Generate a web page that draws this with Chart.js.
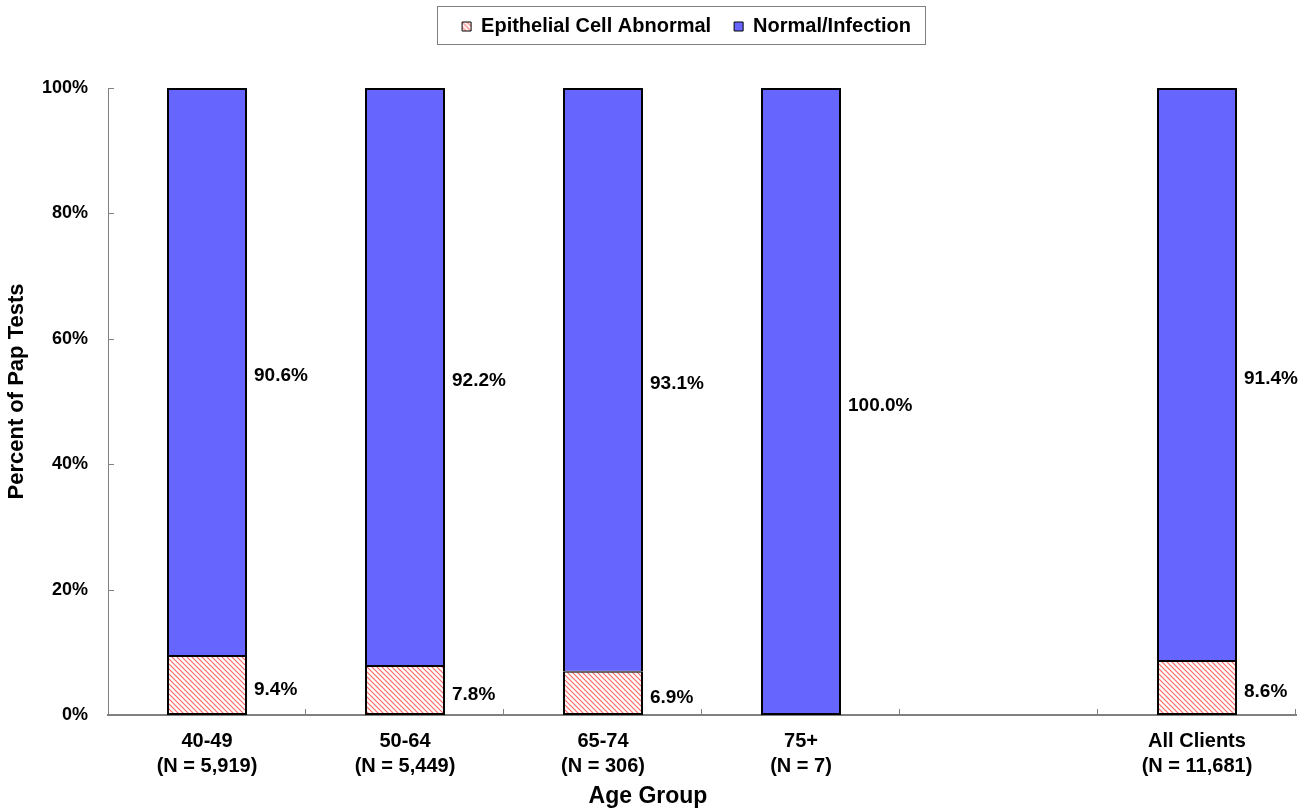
<!DOCTYPE html>
<html><head><meta charset="utf-8">
<script src="https://cdn.jsdelivr.net/npm/chart.js@4.4.1/dist/chart.umd.min.js"></script>
<style>html,body{margin:0;padding:0;background:#fff}#wrap{width:1308px;height:812px}</style>
</head><body><div id="wrap"><canvas id="c" width="1308" height="812"></canvas></div>
<script>
const categories = [["40-49","(N = 5,919)"],["50-64","(N = 5,449)"],["65-74","(N = 306)"],["75+","(N = 7)"],"",["All Clients","(N = 11,681)"]];
const abnormal = [9.4, 7.8, 6.9, 0, null, 8.6];
const normal = [90.6, 92.2, 93.1, 100.0, null, 91.4];
const yTicks = [0, 20, 40, 60, 80, 100];
const seriesNames = ["Epithelial Cell Abnormal", "Normal/Infection"];
const xTitle = "Age Group";
const yTitle = "Percent of Pap Tests";

Chart.defaults.font.family = '"Liberation Sans", Arial, sans-serif';
Chart.defaults.color = '#000';

function hatch() {
  const s = 5, c = document.createElement('canvas');
  c.width = c.height = s;
  const x = c.getContext('2d');
  x.fillStyle = '#fff'; x.fillRect(0, 0, s, s);
  x.strokeStyle = '#ff6464'; x.lineWidth = 1.1;
  x.beginPath();
  x.moveTo(-1, -1); x.lineTo(s + 1, s + 1);
  x.moveTo(-1, s - 1); x.lineTo(1, s + 1);
  x.moveTo(s - 1, -1); x.lineTo(s + 1, 1);
  x.stroke();
  return document.getElementById('c').getContext('2d').createPattern(c, 'repeat');
}

const LEG_FS = 20, TITLE_FS = 23, AXIS_GRAY = '#808080';

const decor = {
  id: 'decor',
  beforeInit(chart) {
    const lg = chart.legend;
    const fit0 = lg.fit;
    lg.fit = function () { fit0.call(this); this.height = 88; };
    const draw0 = lg.draw;
    lg.draw = function () {
      const ctx = this.ctx, hb = this.legendHitBoxes;
      if (!hb || !hb.length) return draw0.call(this);
      const l = hb[0].left, last = hb[hb.length - 1], r = last.left + last.width;
      const dx = 686.5 - (l + r) / 2;
      const dy = (22 - (LEG_FS - 9) / 2) - hb[0].top;
      ctx.save(); ctx.translate(dx, dy); draw0.call(this); ctx.restore();
      ctx.save();
      ctx.strokeStyle = AXIS_GRAY; ctx.lineWidth = 1;
      const bl = Math.round(l + dx - 25) + 0.5, br = Math.round(r + dx + 14) + 0.5;
      ctx.strokeRect(bl, 6.5, br - bl, 38);
      ctx.restore();
    };
  },
  beforeDraw(chart) {
    const ys = chart.scales.y;
    if (ys && !ys._titleShifted) {
      const dt = ys.drawTitle;
      ys.drawTitle = function () {
        this.ctx.save(); this.ctx.translate(0, -10); dt.call(this); this.ctx.restore();
      };
      ys._titleShifted = true;
    }
  },
  afterDatasetsDraw(chart) {
    const ctx = chart.ctx;
    ctx.save();
    ctx.font = 'bold 19px "Liberation Sans", Arial, sans-serif';
    ctx.fillStyle = '#000'; ctx.textAlign = 'left'; ctx.textBaseline = 'middle';
    chart.data.datasets.forEach((ds, di) => {
      const meta = chart.getDatasetMeta(di);
      meta.data.forEach((el, i) => {
        const v = ds.data[i];
        if (v == null || v === 0) return;
        const p = el.getProps(['x', 'y', 'base', 'width'], true);
        ctx.fillText(v.toFixed(1) + '%', p.x + p.width / 2 + 7, (p.y + p.base) / 2 + 4);
      });
    });
    ctx.restore();
  },
  afterDraw(chart) {
    const ctx = chart.ctx, xs = chart.scales.x, ys = chart.scales.y;
    ctx.save();
    ctx.strokeStyle = AXIS_GRAY; ctx.lineWidth = 1;
    ctx.beginPath();
    yTicks.forEach(v => {
      const py = Math.round(ys.getPixelForValue(v)) + 0.5;
      ctx.moveTo(xs.left, py); ctx.lineTo(xs.left + 6, py);
    });
    const n = categories.length;
    for (let i = 1; i <= n; i++) {
      const px = Math.round(xs.left + i * xs.width / n) - 0.5;
      ctx.moveTo(px, ys.bottom); ctx.lineTo(px, ys.bottom - 6);
    }
    ctx.stroke();
    ctx.restore();
  }
};

const pat = hatch();
new Chart(document.getElementById('c'), {
  type: 'bar',
  data: {
    labels: categories,
    datasets: [
      { label: seriesNames[0], data: abnormal, backgroundColor: pat, borderColor: '#000',
        borderWidth: { left: 2, right: 2, bottom: 2, top: 1 }, borderSkipped: false },
      { label: seriesNames[1], data: normal, backgroundColor: '#6666ff', borderColor: '#000',
        borderWidth: c => ({ left: 2, right: 2, top: 2, bottom: abnormal[c.dataIndex] ? 1 : 2 }), borderSkipped: false }
    ]
  },
  options: {
    responsive: false,
    animation: false,
    layout: { padding: { left: 0, right: 12, top: 0, bottom: 0 } },
    datasets: { bar: { categoryPercentage: 1, barPercentage: 0.404 } },
    plugins: {
      legend: {
        position: 'top',
        labels: {
          boxWidth: 9, boxHeight: 9, padding: 23,
          font: { size: LEG_FS, weight: 'bold' }, color: '#000',
          generateLabels(chart) {
            return Chart.defaults.plugins.legend.labels.generateLabels(chart).map(l => Object.assign(l, { lineWidth: 1 }));
          }
        }
      },
      title: {
        display: true, position: 'bottom', text: xTitle,
        font: { size: TITLE_FS, weight: 'bold' }, color: '#000',
        padding: { top: 0, bottom: 2 }
      },
      tooltip: { enabled: false }
    },
    scales: {
      x: {
        stacked: true,
        offset: true,
        grid: { display: false, drawTicks: false },
        border: { display: true, color: AXIS_GRAY, width: 2 },
        ticks: { autoSkip: false, maxRotation: 0, padding: 13.5, font: { size: 20, weight: 'bold', lineHeight: 1.25 }, color: '#000' },
        afterFit(s) { s.height = 97 - (TITLE_FS * 1.2 + 2); }
      },
      y: {
        stacked: true,
        min: 0, max: 100,
        afterBuildTicks(s) { s.ticks = yTicks.map(v => ({ value: v })); },
        grid: { display: false, drawTicks: false },
        border: { display: true, color: AXIS_GRAY, width: 1 },
        ticks: { padding: 20, font: { size: 18, weight: 'bold' }, color: '#000', callback: v => v + '%' },
        title: { display: true, text: yTitle, font: { size: 22, weight: 'bold' }, color: '#000', padding: { top: 4, bottom: 0 } },
        afterFit(s) { s.width = 108; }
      }
    }
  },
  plugins: [decor]
});
</script></body></html>
